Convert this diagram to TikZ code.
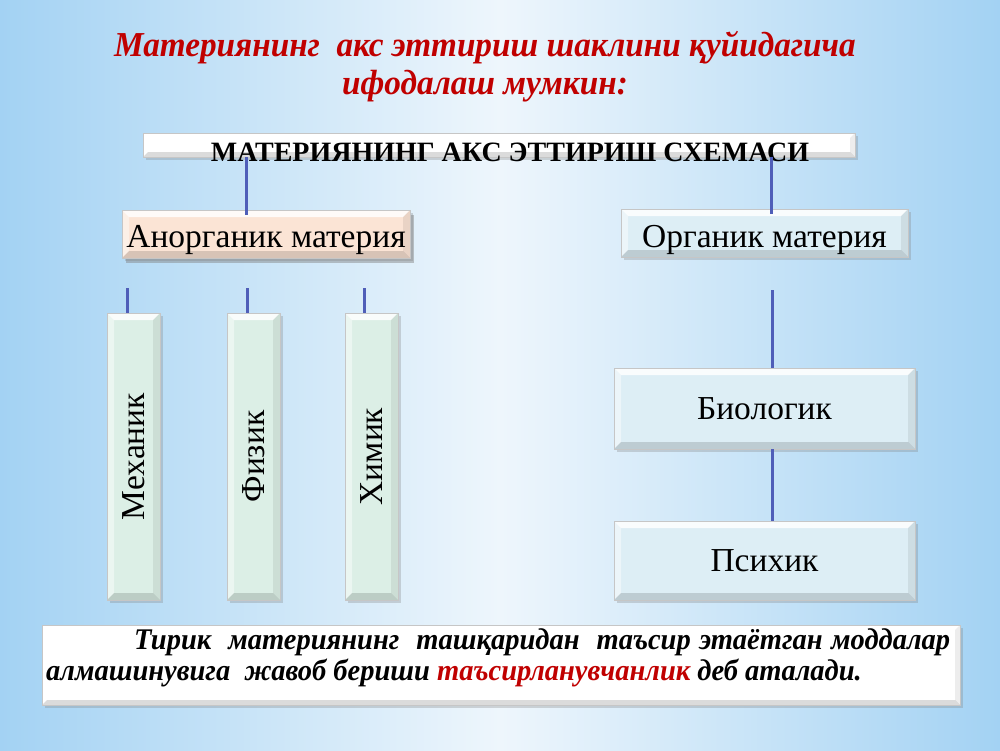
\documentclass[tikz,border=0pt]{standalone}
\usepackage{fontspec}
\setmainfont{Liberation Serif}
\newfontfamily\condbi{Liberation Serif}[FakeStretch=0.95]
\usetikzlibrary{shadows,calc}
\definecolor{bgE}{HTML}{A3D2F3}
\definecolor{bgC}{HTML}{EEF6FC}
\definecolor{linkblue}{RGB}{79,94,184}
\definecolor{titlered}{HTML}{C00000}
\definecolor{peach}{HTML}{FBE4D5}
\definecolor{paleblue}{HTML}{DDEEF5}
\definecolor{mint}{HTML}{DCEFE6}
\begin{document}
\begin{tikzpicture}[x=1pt,y=-1pt,
  link/.style={draw=linkblue,line width=3pt},
  bevel/.style={path picture={
    \path (path picture bounding box.north west) coordinate (bvNW)
          (path picture bounding box.north east) coordinate (bvNE)
          (path picture bounding box.south west) coordinate (bvSW)
          (path picture bounding box.south east) coordinate (bvSE);
    \fill[white,opacity=.85] (bvNW) -- (bvNE) -- ([shift={(-#1,-#1)}]bvNE) -- ([shift={(#1,-#1)}]bvNW) -- cycle;
    \fill[white,opacity=.45] (bvNW) -- ([shift={(#1,-#1)}]bvNW) -- ([shift={(#1,#1)}]bvSW) -- (bvSW) -- cycle;
    \fill[black,opacity=.14] (bvSW) -- (bvSE) -- ([shift={(-#1,#1)}]bvSE) -- ([shift={(#1,#1)}]bvSW) -- cycle;
    \fill[black,opacity=.07] (bvNE) -- (bvSE) -- ([shift={(-#1,#1)}]bvSE) -- ([shift={(-#1,-#1)}]bvNE) -- cycle;
  }},
  bevel/.default=7pt,
  box/.style={draw=gray!45, line width=0.5pt, inner sep=0pt, bevel,
    drop shadow={shadow xshift=3pt, shadow yshift=-3pt, opacity=.3, fill=gray}},
  boxfont/.style={font=\fontsize{33.5}{33.5}\selectfont},
  condfont/.style={font=\condbi\bfseries\itshape\fontsize{#1}{#1}\selectfont},
]
\useasboundingbox (0,0) rectangle (1000,750);
\shade[left color=bgE, right color=bgE, middle color=bgC] (0,0) rectangle (1000,750);

% title
\node[anchor=base, text=titlered, condfont=35] (t1) at (485,56) {Материянинг~ акс эттириш шаклини қуйидагича};
\node[anchor=base, text=titlered, condfont=35] (t2) at (485,94) {ифодалаш мумкин:};

% header bar
\node[box, bevel=5pt, fill=white, minimum width=712pt, minimum height=24pt] (hdr) at (499,145) {};
\node[anchor=base, font=\bfseries\fontsize{28}{28}\selectfont] (hdrtext) at (510,161) {МАТЕРИЯНИНГ АКС ЭТТИРИШ СХЕМАСИ};

% second level
\node[box, fill=peach, minimum width=288pt, minimum height=48pt, boxfont, text height=26pt, text depth=0pt,
  drop shadow={shadow xshift=4pt, shadow yshift=-5pt, opacity=.45, fill=gray}] (anorg) at (266,234) {Анорганик материя};
\node[box, fill=paleblue, minimum width=287pt, minimum height=48pt, boxfont, text height=28pt, text depth=0pt] (org) at (764.5,233) {Органик материя};

% vertical boxes
\node[box, fill=mint, minimum width=53pt, minimum height=287pt, boxfont] (mech) at (133.5,456.5) {\rotatebox{90}{Механик}};
\node[box, fill=mint, minimum width=53pt, minimum height=287pt, boxfont] (phys) at (253.5,456.5) {\rotatebox{90}{Физик}};
\node[box, fill=mint, minimum width=53pt, minimum height=287pt, boxfont] (chem) at (371.5,456.5) {\rotatebox{90}{Химик}};

% right boxes
\node[box, fill=paleblue, minimum width=301pt, minimum height=81pt,
  label={[anchor=base, boxfont]center:Биологик}] (bio) at (764.5,408.5) {};
\node[box, fill=paleblue, minimum width=301pt, minimum height=79pt,
  label={[anchor=base, boxfont]center:Психик}] (psy) at (764.5,560.5) {};

% connectors
\draw[link] ([xshift=-20pt]anorg.north |- hdr.south) -- ([xshift=-20pt,yshift=-5pt]anorg.north);
\draw[link] ([xshift=7pt]org.north |- hdr.south) -- ([xshift=7pt,yshift=-5pt]org.north);
\draw[link] ([xshift=-6pt]mech.north) -- ++(0,-25);
\draw[link] ([xshift=-6pt]phys.north) -- ++(0,-25);
\draw[link] ([xshift=-7pt]chem.north) -- ++(0,-25);
\draw[link] ([xshift=8pt]bio.north) -- ++(0,-78);
\draw[link] ([xshift=8pt]bio.south) -- ([xshift=8pt]psy.north);

% bottom box
\node[box, bevel=5pt, fill=white, minimum width=918pt, minimum height=80pt] (note) at (501,665) {};
\node[anchor=north west, inner sep=0pt, text width=904pt, align=justify, font=\condbi\bfseries\itshape\fontsize{30}{31}\selectfont] (notetext) at (46,628)
  {\hspace*{88pt}Тирик~ материянинг~ ташқаридан~ таъсир этаётган моддалар\linebreak алмашинувига~ жавоб бериши \textcolor{titlered}{таъсирланувчанлик} деб аталади.};
\end{tikzpicture}
\end{document}
